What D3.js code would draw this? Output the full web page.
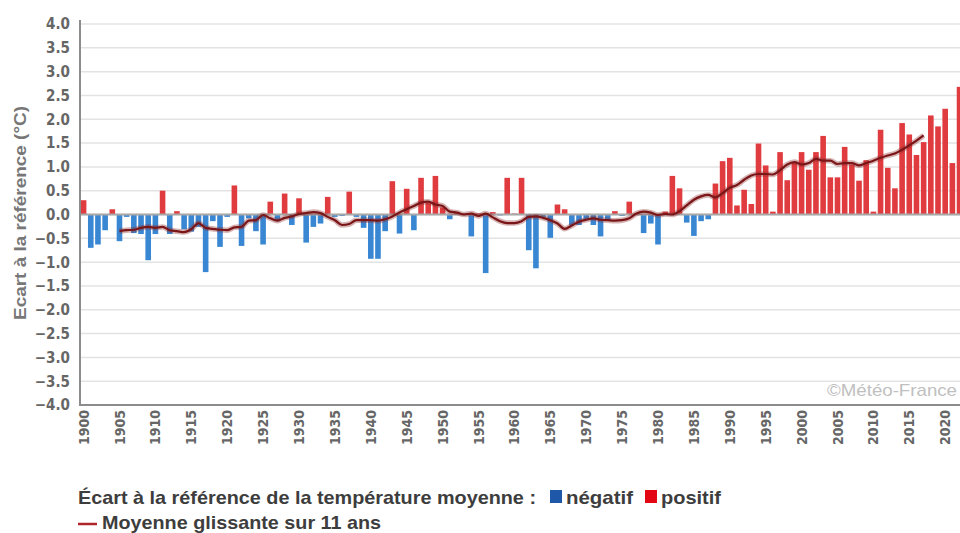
<!DOCTYPE html>
<html>
<head>
<meta charset="utf-8">
<script src="https://cdn.jsdelivr.net/npm/d3@7"></script>
<style>
  body { margin: 0; background: #fff; }
  svg { display: block; }
</style>
</head>
<body>
<svg id="canvas" width="960" height="533"></svg>
<script>
// années 1900 -> 2022
const years = d3.range(1900, 2023);

// écart annuel à la référence (°C)
const anomalies = [
  0.30, -0.70, -0.63, -0.33, 0.11, -0.56, -0.05, -0.39, -0.41, -0.96,
  -0.41, 0.50, -0.41, 0.07, -0.31, -0.36, -0.26, -1.21, -0.14, -0.68,
  -0.05, 0.61, -0.66, -0.08, -0.35, -0.63, 0.27, -0.14, 0.44, -0.22,
  0.34, -0.59, -0.26, -0.19, 0.37, -0.05, -0.03, 0.48, -0.05, -0.28,
  -0.93, -0.93, -0.35, 0.70, -0.40, 0.54, -0.33, 0.77, 0.25, 0.81,
  0.15, -0.10, 0.05, 0.02, -0.46, 0.03, -1.23, 0.05, -0.02, 0.77,
  0.02, 0.77, -0.75, -1.13, -0.05, -0.49, 0.21, 0.11, -0.22, -0.22,
  -0.12, -0.22, -0.46, -0.13, 0.07, -0.03, 0.27, 0.03, -0.39, -0.19,
  -0.63, 0.06, 0.81, 0.55, -0.17, -0.45, -0.14, -0.10, 0.65, 1.12,
  1.19, 0.19, 0.52, 0.22, 1.49, 1.03, 0.06, 1.31, 0.72, 1.08,
  1.31, 0.94, 1.31, 1.65, 0.78, 0.78, 1.42, 1.05, 0.71, 1.14,
  0.06, 1.78, 0.98, 0.55, 1.92, 1.68, 1.25, 1.52, 2.08, 1.85,
  2.22, 1.08, 2.68
];

// moyenne glissante sur 11 ans (1905 -> 2017)
const smoothYears = d3.range(1905, 2018);
const smoothValues = [
  -0.35, -0.33, -0.32, -0.28, -0.26, -0.28, -0.26, -0.33, -0.35, -0.37,
  -0.31, -0.18, -0.28, -0.30, -0.32, -0.33, -0.27, -0.26, -0.13, -0.12,
  -0.01, -0.08, -0.13, -0.07, -0.04, 0.01, 0.03, 0.05, 0.03, -0.05,
  -0.12, -0.22, -0.20, -0.12, -0.12, -0.12, -0.13, -0.10, -0.04, 0.04,
  0.11, 0.18, 0.25, 0.27, 0.21, 0.18, 0.06, 0.04, 0.00, 0.02,
  -0.03, 0.02, -0.06, -0.14, -0.18, -0.18, -0.14, -0.05, -0.04, -0.07,
  -0.12, -0.19, -0.30, -0.23, -0.15, -0.11, -0.08, -0.11, -0.12, -0.13,
  -0.12, -0.08, 0.02, 0.06, 0.04, -0.01, 0.01, 0.00, 0.07, 0.19,
  0.31, 0.38, 0.41, 0.36, 0.45, 0.56, 0.62, 0.73, 0.82, 0.85,
  0.85, 0.84, 0.93, 1.05, 1.10, 1.05, 1.08, 1.17, 1.13, 1.13,
  1.06, 1.08, 1.08, 1.03, 1.08, 1.13, 1.19, 1.24, 1.28, 1.36,
  1.45, 1.55, 1.66
];

const yTicks = d3.range(-4, 4.01, 0.5);
const xTickYears = years.filter(y => y % 5 === 0);

const tickFont = '"Liberation Sans Narrow", "Arial Narrow", "DejaVu Sans Condensed", sans-serif';
const plainFont = '"Liberation Sans", Arial, sans-serif';

let canvas = d3.select('#canvas');

let xScale = d3.scaleBand()
  .domain(years)
  .range([80, 80 + 123 * 7.18])
  .paddingInner(0.22)
  .paddingOuter(0.11);

let yScale = d3.scaleLinear()
  .domain([-4, 4])
  .range([405, 24]);

// grille horizontale
canvas.append('g')
  .selectAll('line')
  .data(yTicks)
  .enter()
  .append('line')
  .attr('x1', 80)
  .attr('x2', 960)
  .attr('y1', d => yScale(d))
  .attr('y2', d => yScale(d))
  .attr('stroke', '#e3e3e3')
  .attr('stroke-width', 1.5);

// barres
canvas.append('g')
  .selectAll('rect')
  .data(years)
  .enter()
  .append('rect')
  .attr('x', (d) => xScale(d))
  .attr('width', xScale.bandwidth())
  .attr('y', (d, i) => yScale(Math.max(0, anomalies[i])))
  .attr('height', (d, i) => Math.abs(yScale(anomalies[i]) - yScale(0)))
  .attr('fill', (d, i) => anomalies[i] < 0 ? '#3987d3' : '#e03c40');

// ligne du zéro
canvas.append('line')
  .attr('x1', 80).attr('x2', 960)
  .attr('y1', yScale(0)).attr('y2', yScale(0))
  .attr('stroke', '#a8a8a8')
  .attr('stroke-width', 2);

// moyenne glissante
let lineGen = d3.line()
  .x((d, i) => xScale(smoothYears[i]) + xScale.bandwidth() / 2)
  .y(d => yScale(d))
  .curve(d3.curveMonotoneX);

canvas.append('path')
  .attr('d', lineGen(smoothValues))
  .attr('fill', 'none')
  .attr('stroke', 'rgba(140, 40, 40, 0.35)')
  .attr('stroke-width', 5.5)
  .attr('stroke-linejoin', 'round');

canvas.append('path')
  .attr('d', lineGen(smoothValues))
  .attr('fill', 'none')
  .attr('stroke', '#7a1518')
  .attr('stroke-width', 2.2)
  .attr('stroke-linejoin', 'round');

// axes
canvas.append('line')
  .attr('x1', 80).attr('x2', 80)
  .attr('y1', 20).attr('y2', 406)
  .attr('stroke', '#8c8c8c').attr('stroke-width', 2);
canvas.append('line')
  .attr('x1', 79).attr('x2', 960)
  .attr('y1', 405).attr('y2', 405)
  .attr('stroke', '#8c8c8c').attr('stroke-width', 2);

// étiquettes y
canvas.append('g')
  .selectAll('text')
  .data(yTicks)
  .enter()
  .append('text')
  .attr('x', 70)
  .attr('y', d => yScale(d))
  .attr('dy', '0.36em')
  .attr('text-anchor', 'end')
  .attr('font-family', tickFont)
  .attr('font-weight', 'bold')
  .attr('font-size', 15)
  .attr('fill', '#666')
  .text(d => d3.format('.1f')(d));

// étiquettes x (verticales)
canvas.append('g')
  .selectAll('text')
  .data(xTickYears)
  .enter()
  .append('text')
  .attr('transform', d => `translate(${xScale(d) + xScale.bandwidth() / 2}, 410) rotate(-90)`)
  .attr('dy', '0.36em')
  .attr('text-anchor', 'end')
  .attr('font-family', tickFont)
  .attr('font-weight', 'bold')
  .attr('font-size', 14)
  .attr('fill', '#666')
  .text(d => d);

// titre de l'axe y
canvas.append('text')
  .attr('transform', 'translate(26, 213) rotate(-90)')
  .attr('text-anchor', 'middle')
  .attr('font-family', plainFont)
  .attr('font-weight', 'bold')
  .attr('font-size', 17)
  .attr('fill', '#777')
  .attr('textLength', 214)
  .attr('lengthAdjust', 'spacingAndGlyphs')
  .text('Ecart à la référence (°C)');

// copyright
canvas.append('text')
  .attr('x', 957)
  .attr('y', 396)
  .attr('text-anchor', 'end')
  .attr('font-family', plainFont)
  .attr('font-size', 17)
  .attr('fill', '#c0c0c0')
  .attr('textLength', 130)
  .attr('lengthAdjust', 'spacingAndGlyphs')
  .text('©Météo-France');

// légende
let legend = canvas.append('g')
  .attr('font-family', plainFont)
  .attr('font-weight', 'bold')
  .attr('font-size', 19)
  .attr('fill', '#3d3d3d');

legend.append('text').attr('x', 78).attr('y', 504)
  .attr('textLength', 458).attr('lengthAdjust', 'spacingAndGlyphs')
  .text('Écart à la référence de la température moyenne :');
legend.append('rect').attr('x', 550).attr('y', 490).attr('width', 12).attr('height', 13).attr('fill', '#1f58a8');
legend.append('text').attr('x', 566).attr('y', 504)
  .attr('textLength', 67).attr('lengthAdjust', 'spacingAndGlyphs')
  .text('négatif');
legend.append('rect').attr('x', 645).attr('y', 490).attr('width', 12).attr('height', 13).attr('fill', '#e30613');
legend.append('text').attr('x', 661).attr('y', 504)
  .attr('textLength', 60).attr('lengthAdjust', 'spacingAndGlyphs')
  .text('positif');
legend.append('line').attr('x1', 78).attr('x2', 97).attr('y1', 524).attr('y2', 524)
  .attr('stroke', '#b0252a').attr('stroke-width', 2.5);
legend.append('text').attr('x', 102).attr('y', 529)
  .attr('textLength', 279).attr('lengthAdjust', 'spacingAndGlyphs')
  .text('Moyenne glissante sur 11 ans');
</script>
</body>
</html>
